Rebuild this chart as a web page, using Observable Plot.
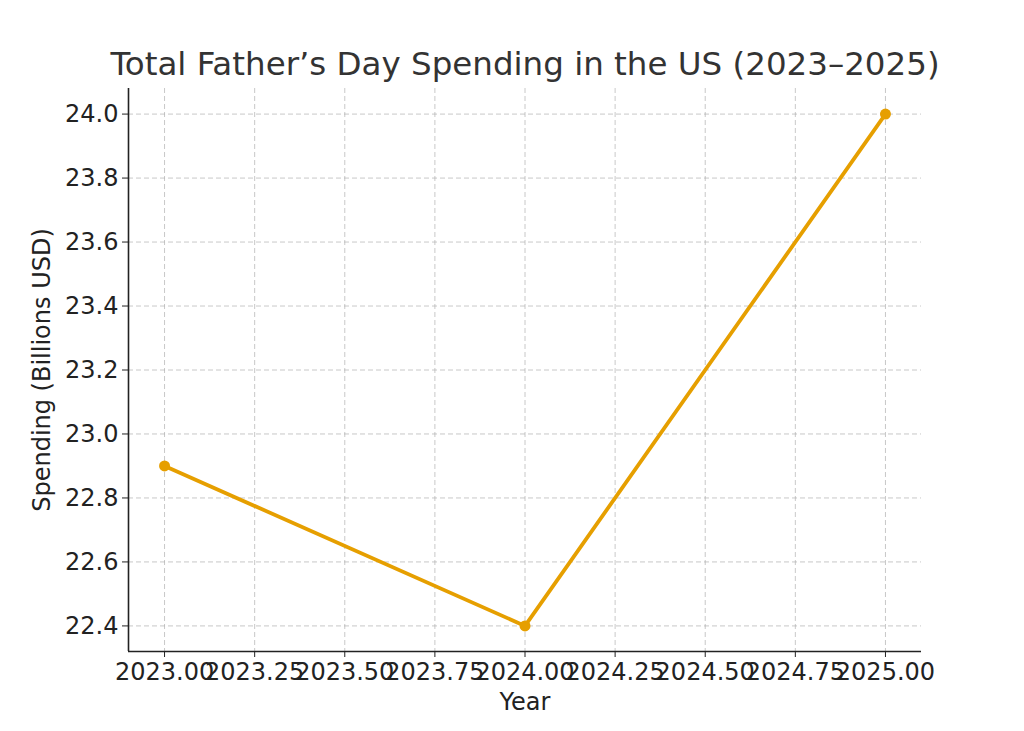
<!DOCTYPE html>
<html>
<head>
<meta charset="utf-8">
<script src="https://cdn.jsdelivr.net/npm/d3@7"></script>
<script src="https://cdn.jsdelivr.net/npm/@observablehq/plot@0.6"></script>
<style>
  html, body { margin: 0; padding: 0; background: #fff; }
  body { width: 1024px; height: 731px; overflow: hidden; font-family: "DejaVu Sans", sans-serif; }
  #title { height: 80px; position: relative; }
  #title span { position: absolute; left: 525px; top: 64px; transform: translate(-50%, -50%); font-size: 32.5px; color: #333; white-space: nowrap; }
</style>
</head>
<body>
<div id="title"><span>Total Father’s Day Spending in the US (2023–2025)</span></div>
<div id="chart"></div>
<script>
const years = [2023, 2024, 2025];
const spending = [22.9, 22.4, 24.0];
const xTicks = [2023.00, 2023.25, 2023.50, 2023.75, 2024.00, 2024.25, 2024.50, 2024.75, 2025.00];
const yTicks = [22.4, 22.6, 22.8, 23.0, 23.2, 23.4, 23.6, 23.8, 24.0];
const xDomain = [2022.9, 2025.1];
const yDomain = [22.32, 24.08];

const data = years.map((y, i) => ({year: y, value: spending[i]}));
const orange = "#E69F00";
const textColor = "#333";

const chart = Plot.plot({
  width: 1024,
  height: 651,
  marginLeft: 128,
  marginRight: 103,
  marginTop: 8,
  marginBottom: 80,
  style: {fontFamily: "DejaVu Sans, sans-serif", fontSize: "24px", color: textColor, background: "#fff", overflow: "visible"},
  x: {domain: xDomain, ticks: xTicks},
  y: {domain: yDomain, ticks: yTicks},
  marks: [
    Plot.gridX(xTicks, {stroke: "#b0b0b0", strokeOpacity: 0.7, strokeDasharray: "5,3", strokeWidth: 1}),
    Plot.gridY(yTicks, {stroke: "#b0b0b0", strokeOpacity: 0.7, strokeDasharray: "5,3", strokeWidth: 1}),
    Plot.ruleX([xDomain[0]], {stroke: "#222", strokeWidth: 1.6}),
    Plot.ruleY([yDomain[0]], {stroke: "#222", strokeWidth: 1.6}),
    Plot.axisX(xTicks, {tickFormat: d3.format(".2f"), tickSize: 6, tickPadding: 5, stroke: "#222", fill: "#222", fontSize: 24,
      label: "Year", labelAnchor: "center", labelArrow: "none", labelOffset: 58}),
    Plot.axisY(yTicks, {tickFormat: d3.format(".1f"), tickSize: 6, tickPadding: 4, stroke: "#222", fill: "#222", fontSize: 24,
      label: "Spending (Billions USD)", labelAnchor: "center", labelArrow: "none", labelOffset: 96}),
    Plot.line(data, {x: "year", y: "value", stroke: orange, strokeWidth: 3.8}),
    Plot.dot(data, {x: "year", y: "value", fill: orange, r: 5.5})
  ]
});
document.getElementById("chart").appendChild(chart);
</script>
</body>
</html>
